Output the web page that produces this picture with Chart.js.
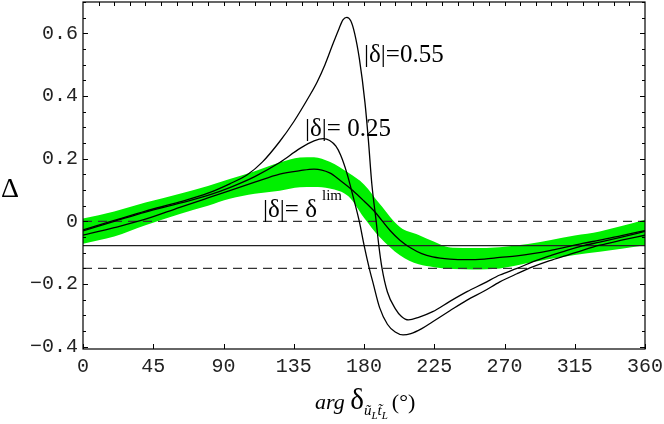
<!DOCTYPE html>
<html>
<head>
<meta charset="utf-8">
<script src="https://cdn.jsdelivr.net/npm/chart.js@4.4.1/dist/chart.umd.min.js"></script>
<style>
  html, body { margin: 0; padding: 0; background: #fff; }
  #wrap { width: 664px; height: 424px; position: relative; }
</style>
</head>
<body>
<div id="wrap"><canvas id="chart"></canvas></div>
<script>
// ===== Data =====
const xTicks = [0, 45, 90, 135, 180, 225, 270, 315, 360];
const yTicks = [-0.4, -0.2, 0, 0.2, 0.4, 0.6];

// |delta| = 0.55
const d55X = [0, 20, 40, 62, 80, 94, 105, 115, 126, 135, 145, 150, 155, 160, 164, 166.5, 169, 171.5, 174, 177, 180.6, 182.8, 185, 187.8, 189.5, 191.5, 195, 200, 204, 208.5, 215, 224, 235, 246, 257, 267, 278, 288, 299, 310, 320, 331, 345, 360];
const d55Y = [-0.027, 0.003, 0.033, 0.062, 0.09, 0.12, 0.148, 0.19, 0.255, 0.318, 0.4, 0.445, 0.5, 0.565, 0.615, 0.643, 0.651, 0.64, 0.6, 0.52, 0.38, 0.26, 0.12, 0.0, -0.077, -0.148, -0.225, -0.278, -0.303, -0.314, -0.306, -0.288, -0.255, -0.224, -0.197, -0.171, -0.15, -0.129, -0.11, -0.092, -0.078, -0.066, -0.05, -0.032];

// |delta| = 0.25
const d25X = [0, 20, 40, 62, 80, 94, 110, 126, 139, 148, 154, 158, 162, 165, 169, 173, 177, 180.1, 183.3, 186, 190, 195, 200, 205, 210, 217, 224, 235, 246, 257, 267, 278, 288, 299, 310, 320, 331, 345, 360];
const d25Y = [-0.03, 0.0, 0.03, 0.058, 0.083, 0.108, 0.143, 0.188, 0.233, 0.257, 0.264, 0.258, 0.24, 0.212, 0.155, 0.08, 0.0, -0.077, -0.148, -0.2, -0.275, -0.328, -0.353, -0.362, -0.358, -0.342, -0.32, -0.285, -0.251, -0.222, -0.193, -0.167, -0.145, -0.125, -0.108, -0.092, -0.076, -0.06, -0.044];

// |delta| = delta^lim
const dLimX = [0, 20, 40, 62, 80, 94, 110, 126, 139, 148, 158, 165, 173, 180, 187, 196.7, 203, 210, 217, 224, 235, 246, 257, 267, 278, 288, 299, 310, 320, 331, 345, 360];
const dLimY = [-0.044, -0.02, 0.007, 0.045, 0.075, 0.098, 0.125, 0.151, 0.162, 0.167, 0.155, 0.13, 0.098, 0.065, 0.03, -0.029, -0.06, -0.085, -0.103, -0.113, -0.12, -0.122, -0.12, -0.115, -0.11, -0.103, -0.093, -0.081, -0.07, -0.06, -0.045, -0.029];

// green band around delta^lim
const bandX = [0, 20, 40, 62, 80, 94, 110, 126, 139, 148, 158, 170, 180, 190, 203, 215, 225, 230, 237, 250, 267, 285, 299, 315, 331, 345, 360];
const bandHi = [0.009, 0.032, 0.06, 0.088, 0.113, 0.135, 0.16, 0.188, 0.204, 0.205, 0.19, 0.155, 0.118, 0.056, -0.018, -0.043, -0.065, -0.076, -0.084, -0.085, -0.082, -0.072, -0.06, -0.045, -0.032, -0.015, 0.005];
const bandLo = [-0.071, -0.048, -0.012, 0.024, 0.05, 0.072, 0.088, 0.098, 0.109, 0.11, 0.105, 0.08, 0.012, -0.05, -0.108, -0.137, -0.146, -0.149, -0.152, -0.153, -0.15, -0.133, -0.12, -0.107, -0.097, -0.087, -0.076];

// horizontal reference lines
const dashedLevels = [0, -0.15];
const solidLevel = -0.077;

const X_MIN = 0, X_MAX = 360, Y_MIN = -0.407, Y_MAX = 0.70;

const pts = (xs, ys) => xs.map((x, i) => ({ x, y: ys[i] }));
const hline = v => [{ x: X_MIN, y: v }, { x: X_MAX, y: v }];

const curve = (label, data) => ({
    label, data, order: 0,
    borderColor: '#000', borderWidth: 1.3,
    pointRadius: 0, fill: false,
    cubicInterpolationMode: 'monotone'
});

const noPad = s => { s.paddingTop = 0; s.paddingBottom = 0; s.paddingLeft = 0; s.paddingRight = 0; };

// ===== Frame, inward ticks, labels =====
const decorPlugin = {
    id: 'decor',
    afterDraw(chart) {
        const { ctx, chartArea: a, scales: { x, y } } = chart;
        ctx.save();
        ctx.strokeStyle = '#000';
        ctx.lineWidth = 1.2;
        ctx.strokeRect(a.left, a.top, a.right - a.left, a.bottom - a.top);

        ctx.lineWidth = 1;
        ctx.beginPath();
        // left/right: minor every 0.05, major every 0.2
        for (let v = -0.4; v <= 0.7001; v += 0.05) {
            const py = Math.round(y.getPixelForValue(v)) + 0.5;
            const major = Math.abs(Math.round(v * 5) - v * 5) < 1e-6;
            const len = major ? 5 : 3;
            ctx.moveTo(a.left, py); ctx.lineTo(a.left + len, py);
            ctx.moveTo(a.right, py); ctx.lineTo(a.right - len, py);
        }
        // top: every 10 degrees
        for (let v = 10; v < 360; v += 10) {
            const px = Math.round(x.getPixelForValue(v)) + 0.5;
            ctx.moveTo(px, a.top); ctx.lineTo(px, a.top + 4);
        }
        // bottom: majors
        xTicks.forEach(v => {
            const px = Math.round(x.getPixelForValue(v)) + 0.5;
            ctx.moveTo(px, a.bottom); ctx.lineTo(px, a.bottom - 5);
        });
        ctx.stroke();

        // curve labels
        ctx.fillStyle = '#000';
        ctx.textBaseline = 'alphabetic';
        ctx.textAlign = 'left';
        ctx.font = '25px "Liberation Serif"';
        ctx.fillText('|δ|=0.55', 364, 62);
        ctx.fillText('|δ|= 0.25', 305, 136);
        ctx.fillText('|δ|= δ', 263, 217);
        ctx.font = '15px "Liberation Serif"';
        ctx.fillText('lim', 322, 200);

        // y axis title
        ctx.font = '28px "Liberation Serif"';
        ctx.fillText('Δ', 1, 197);

        // x axis title
        let cx = 315;
        const base = 409;
        ctx.font = 'italic 22px "Liberation Serif"';
        ctx.fillText('arg', cx, base);
        cx += ctx.measureText('arg ').width;
        ctx.font = '29px "Liberation Serif"';
        ctx.fillText('δ', cx, base);
        cx += ctx.measureText('δ').width;
        ctx.font = 'italic 15px "Liberation Serif"';
        ctx.fillText('ũ', cx, base + 6);
        cx += ctx.measureText('ũ').width;
        ctx.font = 'italic 11px "Liberation Serif"';
        ctx.fillText('L', cx, base + 10);
        cx += ctx.measureText('L').width;
        ctx.font = 'italic 15px "Liberation Serif"';
        ctx.fillText('t\u0303', cx, base + 6);
        cx += ctx.measureText('t').width;
        ctx.font = 'italic 11px "Liberation Serif"';
        ctx.fillText('L', cx, base + 10);
        cx += ctx.measureText('L').width + 4;
        ctx.font = '22px "Liberation Serif"';
        ctx.fillText('(°)', cx, base);
        ctx.restore();
    }
};

const chart = new Chart(document.getElementById('chart'), {
    type: 'line',
    data: {
        datasets: [
            {
                label: 'band upper', data: pts(bandX, bandHi), order: 10,
                borderWidth: 0, borderColor: 'rgba(0,0,0,0)', pointRadius: 0,
                backgroundColor: '#00f000', fill: '+1', cubicInterpolationMode: 'monotone'
            },
            {
                label: 'band lower', data: pts(bandX, bandLo), order: 11,
                borderWidth: 0, borderColor: 'rgba(0,0,0,0)', pointRadius: 0,
                fill: false, cubicInterpolationMode: 'monotone'
            },
            ...dashedLevels.map(v => ({
                label: 'dashed ' + v, data: hline(v), order: 1,
                borderColor: '#333', borderWidth: 1.2, borderDash: [9, 6],
                pointRadius: 0, fill: false
            })),
            {
                label: 'solid', data: hline(solidLevel), order: 1,
                borderColor: '#222', borderWidth: 1.2, pointRadius: 0, fill: false
            },
            curve('|δ|=δlim', pts(dLimX, dLimY)),
            curve('|δ|=0.25', pts(d25X, d25Y)),
            curve('|δ|=0.55', pts(d55X, d55Y))
        ]
    },
    options: {
        responsive: true,
        maintainAspectRatio: false,
        animation: false,
        layout: { padding: { top: 2, right: 19, left: 0, bottom: 0 } },
        plugins: { legend: { display: false }, tooltip: { enabled: false } },
        scales: {
            x: {
                type: 'linear', min: X_MIN, max: X_MAX,
                afterBuildTicks: s => { s.ticks = xTicks.map(v => ({ value: v })); },
                afterFit: s => { s.height = 75; noPad(s); },
                grid: { display: false, drawTicks: false },
                border: { display: false },
                ticks: {
                    padding: 6, color: '#222', maxRotation: 0,
                    font: { family: '"Liberation Mono"', size: 20 },
                    callback: v => String(v)
                }
            },
            y: {
                type: 'linear', min: Y_MIN, max: Y_MAX,
                afterBuildTicks: s => { s.ticks = yTicks.map(v => ({ value: v })); },
                afterFit: s => { s.width = 83; noPad(s); },
                grid: { display: false, drawTicks: false },
                border: { display: false },
                ticks: {
                    padding: 5, color: '#222',
                    font: { family: '"Liberation Mono"', size: 20 },
                    callback: v => v === 0 ? '0' : (v < 0 ? '\u2212' : '') + Math.abs(v).toFixed(1)
                }
            }
        }
    },
    plugins: [decorPlugin]
});
</script>
</body>
</html>
